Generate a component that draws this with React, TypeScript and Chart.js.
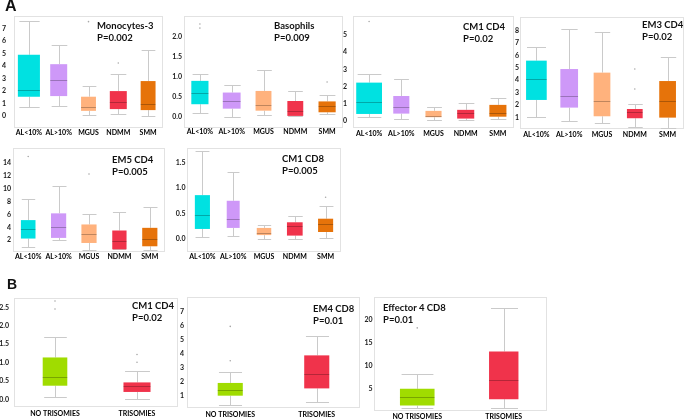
import React, { useEffect, useRef } from 'react';
import { Chart, registerables } from 'chart.js';
Chart.register(...registerables);

// ---------- categories & colours ----------
const groupsA = ['AL<10%', 'AL>10%', 'MGUS', 'NDMM', 'SMM'];
const groupsB = ['NO TRISOMIES', 'TRISOMIES'];
const colorsA = ['#00E1E1', '#CE98F8', '#FFB27D', '#F0334B', '#E6730A'];
const colorsB = ['#A0DC00', '#F0334B'];

// ---------- box statistics: [min, q1, median, q3, max] per group ----------
const monocytes3Stats = [
  [0.75, 1.55, 2.1, 4.9, 7.6],
  [0.8, 1.6, 2.85, 4.15, 5.7],
  [0.05, 0.42, 0.75, 1.55, 2.4],
  [0.13, 0.56, 1.15, 2.0, 3.4],
  [0.0, 0.48, 0.93, 2.8, 5.3],
];
const monocytes3Outliers = [[], [], [7.55], [4.25], []];
const monocytes3Ticks = [0, 1, 2, 3, 4, 5, 6, 7];

const basophilsStats = [
  [0.1, 0.32, 0.6, 0.9, 1.07],
  [0.0, 0.21, 0.4, 0.61, 0.8],
  [0.05, 0.16, 0.3, 0.65, 1.16],
  [0.02, 0.03, 0.16, 0.4, 0.65],
  [0.07, 0.12, 0.27, 0.39, 0.55],
];
const basophilsOutliers = [[2.31, 2.21], [], [], [], [0.87]];
const basophilsTicks = [0, 0.5, 1.0, 1.5, 2.0];

const cm1Cd4Stats = [
  [0.2, 0.39, 1.11, 2.22, 2.71],
  [0.1, 0.41, 0.8, 1.44, 2.44],
  [0.06, 0.2, 0.29, 0.57, 0.78],
  [0.04, 0.12, 0.43, 0.63, 1.05],
  [0.1, 0.23, 0.43, 0.92, 1.35],
];
const cm1Cd4Outliers = [[5.79], [], [], [], []];
const cm1Cd4Ticks = [0, 1, 2, 3, 4, 5];

const em3Cd4Stats = [
  [1.0, 2.4, 4.07, 5.58, 6.71],
  [0.73, 1.78, 2.7, 4.9, 8.11],
  [0.51, 1.08, 2.29, 4.61, 7.87],
  [0.24, 0.92, 1.4, 1.67, 2.1],
  [0.16, 0.97, 2.29, 3.93, 5.9],
];
const em3Cd4Outliers = [[], [], [], [4.9, 3.29], []];
const em3Cd4Ticks = [1, 2, 3, 4, 5, 6, 7, 8];

const em5Cd4Stats = [
  [0.96, 2.26, 3.66, 5.1, 8.31],
  [2.0, 2.36, 3.97, 6.14, 10.42],
  [0.55, 1.58, 2.93, 4.43, 6.03],
  [0.6, 0.6, 1.84, 3.5, 6.29],
  [0.45, 1.07, 2.26, 3.91, 7.17],
];
const em5Cd4Outliers = [[14.9], [], [12.2], [], []];
const em5Cd4Ticks = [2, 4, 6, 8, 10, 12, 14];

const cm1Cd8Stats = [
  [0.05, 0.2, 0.47, 0.86, 1.72],
  [0.06, 0.22, 0.4, 0.75, 1.32],
  [0.01, 0.08, 0.13, 0.22, 0.28],
  [0.0, 0.07, 0.26, 0.33, 0.45],
  [0.03, 0.14, 0.29, 0.4, 0.64],
];
const cm1Cd8Outliers = [[], [], [], [], [0.82]];
const cm1Cd8Ticks = [0, 0.5, 1.0, 1.5];

const triCm1Cd4Stats = [
  [0.05, 0.37, 0.6, 1.14, 1.71],
  [0.01, 0.2, 0.35, 0.46, 0.77],
];
const triCm1Cd4Outliers = [[2.68, 2.46], [1.22, 1.01]];
const triCm1Cd4Ticks = [0, 0.5, 1.0, 1.5, 2.0, 2.5];

const triEm4Cd8Stats = [
  [0.34, 0.98, 1.41, 1.89, 2.64],
  [0.53, 1.5, 2.5, 3.86, 5.21],
];
const triEm4Cd8Outliers = [[3.48, 5.93], []];
const triEm4Cd8Ticks = [1, 2, 3, 4, 5, 6, 7];

const triEff4Cd8Stats = [
  [0.8, 1.37, 3.2, 5.0, 8.2],
  [0.8, 2.76, 6.96, 13.1, 22.5],
];
const triEff4Cd8Outliers = [[18.2], []];
const triEff4Cd8Ticks = [5, 10, 15, 20];

// ---------- panel layout (positions / styles) ----------
type Panel = {
  labels: string[]; colors: string[]; stats: number[][]; outliers: number[][]; ticks: number[];
  dec: number; yMin: number; yMax: number; L: number; R: number; T: number; B: number;
  yPad: number; xPad: number; boxW: number[]; title: string[]; tx: number; ty: number;
};

const panels: Panel[] = [
  { labels: groupsA, colors: colorsA, stats: monocytes3Stats, outliers: monocytes3Outliers, ticks: monocytes3Ticks,
    dec: 0, yMin: -0.95, yMax: 8.0, L: 14, R: 163, T: 16, B: 128, yPad: 8, xPad: 1,
    boxW: [0.74, 0.57, 0.5, 0.57, 0.5], title: ['Monocytes-3', 'P=0.002'], tx: 97, ty: 20 },
  { labels: groupsA, colors: colorsA, stats: basophilsStats, outliers: basophilsOutliers, ticks: basophilsTicks,
    dec: 1, yMin: -0.27, yMax: 2.51, L: 184, R: 343, T: 16, B: 128, yPad: 2, xPad: 0,
    boxW: [0.54, 0.56, 0.5, 0.5, 0.54], title: ['Basophils', 'P=0.009'], tx: 274, ty: 20 },
  { labels: groupsA, colors: colorsA, stats: cm1Cd4Stats, outliers: cm1Cd4Outliers, ticks: cm1Cd4Ticks,
    dec: 0, yMin: -0.43, yMax: 6.11, L: 353, R: 514, T: 16, B: 128, yPad: 6, xPad: 2,
    boxW: [0.8, 0.5, 0.5, 0.53, 0.53], title: ['CM1 CD4', 'P=0.02'], tx: 463, ty: 21 },
  { labels: groupsA, colors: colorsA, stats: em3Cd4Stats, outliers: em3Cd4Outliers, ticks: em3Cd4Ticks,
    dec: 0, yMin: 0.05, yMax: 9.11, L: 520, R: 684, T: 17, B: 129, yPad: 1, xPad: 2,
    boxW: [0.63, 0.54, 0.51, 0.48, 0.51], title: ['EM3 CD4', 'P=0.02'], tx: 642, ty: 19 },
  { labels: groupsA, colors: colorsA, stats: em5Cd4Stats, outliers: em5Cd4Outliers, ticks: em5Cd4Ticks,
    dec: 0, yMin: 0.19, yMax: 16.2, L: 13, R: 165, T: 148, B: 252, yPad: 2, xPad: 1,
    boxW: [0.48, 0.5, 0.5, 0.47, 0.5], title: ['EM5 CD4', 'P=0.005'], tx: 112, ty: 154 },
  { labels: groupsA, colors: colorsA, stats: cm1Cd8Stats, outliers: cm1Cd8Outliers, ticks: cm1Cd8Ticks,
    dec: 1, yMin: -0.25, yMax: 1.78, L: 187, R: 341, T: 148, B: 252, yPad: 1.5, xPad: 1,
    boxW: [0.49, 0.42, 0.47, 0.51, 0.49], title: ['CM1 CD8', 'P=0.005'], tx: 282, ty: 153 },
  { labels: groupsB, colors: colorsB, stats: triCm1Cd4Stats, outliers: triCm1Cd4Outliers, ticks: triCm1Cd4Ticks,
    dec: 1, yMin: -0.21, yMax: 2.76, L: 14, R: 178, T: 298, B: 407, yPad: 5, xPad: 3,
    boxW: [0.3, 0.33], title: ['CM1 CD4', 'P=0.02'], tx: 132, ty: 300 },
  { labels: groupsB, colors: colorsB, stats: triEm4Cd8Stats, outliers: triEm4Cd8Outliers, ticks: triEm4Cd8Ticks,
    dec: 0, yMin: 0.1, yMax: 8.03, L: 187, R: 360, T: 297, B: 408, yPad: 3, xPad: 3,
    boxW: [0.29, 0.29], title: ['EM4 CD8', 'P=0.01'], tx: 313, ty: 303 },
  { labels: groupsB, colors: colorsB, stats: triEff4Cd8Stats, outliers: triEff4Cd8Outliers, ticks: triEff4Cd8Ticks,
    dec: 0, yMin: 0.2, yMax: 24.9, L: 374, R: 547, T: 297, B: 411, yPad: 1.5, xPad: 1.5,
    boxW: [0.4, 0.34], title: ['Effector 4 CD8', 'P=0.01'], tx: 383, ty: 302 },
];

const YW = 30, TOP = 14, XH = 14, RP = 2;
const FONT = 'Lato, "Open Sans", sans-serif';

function makeBoxPlugin(p: Panel) {
  return {
    id: 'boxWhiskers',
    beforeDatasetsDraw(chart: any) {
      const { ctx, chartArea: a, scales } = chart;
      const xs = scales.x, ys = scales.y;
      ctx.save();
      ctx.strokeStyle = '#e2e2e2';
      ctx.lineWidth = 1;
      ctx.strokeRect(a.left + 0.5, a.top + 0.5, a.right - a.left - 1, a.bottom - a.top - 1);
      const catW = xs.width / p.labels.length;
      ctx.strokeStyle = '#cacaca';
      p.stats.forEach((s, i) => {
        const x = Math.round(xs.getPixelForValue(i)) + 0.5;
        const half = (catW * p.boxW[i] * 0.92) / 2;
        const yMin = Math.round(ys.getPixelForValue(s[0])) + 0.5;
        const yQ1 = ys.getPixelForValue(s[1]);
        const yQ3 = ys.getPixelForValue(s[3]);
        const yMax = Math.round(ys.getPixelForValue(s[4])) + 0.5;
        ctx.beginPath();
        ctx.moveTo(x, yQ3); ctx.lineTo(x, yMax);
        ctx.moveTo(x, yQ1); ctx.lineTo(x, yMin);
        ctx.moveTo(x - half, yMax); ctx.lineTo(x + half, yMax);
        ctx.moveTo(x - half, yMin); ctx.lineTo(x + half, yMin);
        ctx.stroke();
      });
      ctx.restore();
    },
    afterDatasetsDraw(chart: any) {
      const { ctx, scales } = chart;
      const xs = scales.x, ys = scales.y;
      const catW = xs.width / p.labels.length;
      ctx.save();
      ctx.strokeStyle = 'rgba(0,0,0,0.25)';
      ctx.lineWidth = 1;
      p.stats.forEach((s, i) => {
        const x = xs.getPixelForValue(i);
        const half = (catW * p.boxW[i]) / 2;
        const y = Math.round(ys.getPixelForValue(s[2])) + 0.5;
        ctx.beginPath();
        ctx.moveTo(x - half, y); ctx.lineTo(x + half, y);
        ctx.stroke();
      });
      ctx.restore();
    },
  };
}

function BoxPanel({ p }: { p: Panel }) {
  const ref = useRef<HTMLCanvasElement>(null);
  useEffect(() => {
    if (!ref.current) return;
    const datasets: any[] = p.stats.map((s, i) => ({
      type: 'bar',
      data: p.labels.map((_, j) => (j === i ? [s[1], s[3]] : null)),
      backgroundColor: p.colors[i],
      borderWidth: 0,
      grouped: false,
      barPercentage: p.boxW[i],
      categoryPercentage: 1,
      order: 2,
    }));
    const pts: any[] = [];
    p.outliers.forEach((arr, i) => arr.forEach((v) => pts.push({ x: p.labels[i], y: v })));
    datasets.push({
      type: 'line',
      data: pts,
      showLine: false,
      pointRadius: 0.8,
      pointHoverRadius: 0.8,
      pointBackgroundColor: '#a8a8a8',
      pointBorderWidth: 0,
      order: 0,
    });
    const chart = new Chart(ref.current, {
      type: 'bar',
      data: { labels: p.labels, datasets },
      plugins: [makeBoxPlugin(p)],
      options: {
        animation: false,
        responsive: false,
        devicePixelRatio: 1,
        layout: { padding: { top: TOP, right: RP, left: 0, bottom: 0 } },
        plugins: { legend: { display: false }, tooltip: { enabled: false }, title: { display: false } },
        scales: {
          x: {
            type: 'category',
            offset: true,
            grid: { display: false, drawTicks: false, tickLength: 0 },
            border: { display: false },
            ticks: {
              padding: p.xPad,
              maxRotation: 0,
              autoSkip: false,
              color: '#000000',
              font: { family: FONT, size: 7, weight: 'bold' },
            },
            afterFit: (s: any) => { s.height = XH; },
          },
          y: {
            type: 'linear',
            min: p.yMin,
            max: p.yMax,
            grid: { display: false, drawTicks: false, tickLength: 0 },
            border: { display: false },
            afterBuildTicks: (s: any) => { s.ticks = p.ticks.map((v) => ({ value: v })); },
            ticks: {
              padding: p.yPad,
              color: '#1a1a1a',
              font: { family: FONT, size: 7, weight: 'bold' },
              callback: (v: any) => Number(v).toFixed(p.dec),
            },
            afterFit: (s: any) => { s.width = YW; },
          },
        },
      } as any,
    });
    return () => chart.destroy();
  }, [p]);
  const w = YW + (p.R - p.L) + RP;
  const h = TOP + (p.B - p.T) + XH;
  return (
    <>
      <canvas
        ref={ref}
        width={w}
        height={h}
        style={{ position: 'absolute', left: p.L - YW, top: p.T - TOP, width: w, height: h }}
      />
      <div
        style={{
          position: 'absolute', left: p.tx, top: p.ty, fontFamily: FONT, fontWeight: 700,
          fontSize: 9.5, lineHeight: '11.5px', color: '#111111', whiteSpace: 'nowrap',
        }}
      >
        <div>{p.title[0]}</div>
        <div>{p.title[1]}</div>
      </div>
    </>
  );
}

export default function App() {
  return (
    <div
      style={{
        position: 'absolute', left: 0, top: 0, width: 685, height: 420, overflow: 'hidden',
        background: '#ffffff',
      }}
    >
      {panels.map((p, i) => (
        <BoxPanel key={i} p={p} />
      ))}
      <div style={{ position: 'absolute', left: 5, top: -2, font: 'bold 16px "Liberation Sans", Arial, sans-serif', lineHeight: '16px', color: '#111' }}>A</div>
      <div style={{ position: 'absolute', left: 7, top: 277, font: 'bold 14px "Liberation Sans", Arial, sans-serif', lineHeight: '14px', color: '#111' }}>B</div>
    </div>
  );
}
